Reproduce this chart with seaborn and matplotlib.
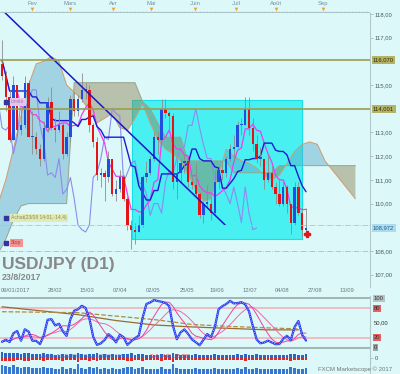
import numpy as np
import pandas as pd
import matplotlib
matplotlib.use("Agg")
import matplotlib.pyplot as plt
from matplotlib.patches import Rectangle
from matplotlib.transforms import blended_transform_factory
import seaborn as sns

# 1: données USD/JPY, une bougie = 2 séances (10/01 -> 23/08/2017)
first_open = 115.9
close = [115.4, 114.5, 112.7, 115.0, 113.1, 113.3, 115.1, 112.8, 112.8, 112.3,
         111.9, 113.2, 114.3, 113.2, 113.1, 113.3, 112.1, 112.8, 114.4, 113.9,
         114.4, 114.8, 114.8, 113.3, 112.6, 111.2, 111.3, 111.1, 111.9, 110.4,
         110.6, 111.1, 110.2, 109.1, 108.9, 108.8, 109.1, 111.1, 111.3, 111.9,
         112.8, 112.7, 114.0, 113.8, 113.7, 110.9, 111.3, 111.7, 111.8, 110.9,
         110.8, 110.4, 109.5, 110.0, 110.0, 109.6, 110.9, 111.4, 111.3, 111.9,
         112.3, 112.4, 113.3, 113.3, 114.0, 113.2, 112.5, 111.9, 111.9, 111.0,
         111.3, 110.7, 110.4, 110.0, 110.7, 110.0, 109.2, 110.7, 109.6, 108.9,
         108.97]
high = [116.9, 115.6, 114.8, 115.4, 115.0, 114.0, 115.4, 115.2, 113.9, 113.0,
        112.5, 113.5, 114.5, 114.9, 113.6, 113.9, 113.4, 113.0, 114.6, 114.7,
        114.6, 115.5, 115.1, 115.0, 113.4, 112.8, 111.5, 111.4, 112.2, 111.9,
        111.0, 111.4, 111.2, 110.3, 109.3, 109.2, 109.5, 111.2, 111.8, 112.0,
        113.0, 113.0, 114.4, 114.4, 113.9, 113.8, 111.9, 111.9, 112.1, 111.9,
        111.2, 111.7, 110.5, 110.1, 110.8, 110.3, 111.4, 111.6, 111.8, 112.0,
        112.5, 112.9, 113.5, 113.6, 114.5, 114.5, 113.6, 112.9, 112.4, 111.9,
        112.1, 111.6, 110.9, 111.0, 110.9, 110.8, 110.0, 110.9, 110.9, 109.8,
        109.8]
low = [115.2, 113.9, 112.6, 112.7, 112.9, 112.9, 113.2, 112.8, 112.1, 112.1,
       111.6, 111.8, 113.0, 113.1, 112.6, 113.0, 111.9, 112.0, 112.6, 113.7,
       113.7, 114.3, 114.4, 113.0, 112.4, 111.0, 110.7, 110.1, 110.9, 110.3,
       110.1, 110.5, 110.1, 108.9, 108.1, 108.3, 108.8, 109.0, 110.9, 111.2,
       111.8, 112.1, 112.7, 113.6, 113.1, 110.6, 110.2, 110.9, 111.3, 110.7,
       110.6, 110.3, 109.4, 109.2, 109.8, 109.3, 109.5, 110.6, 111.0, 111.1,
       111.8, 111.8, 112.4, 112.9, 113.3, 112.9, 112.2, 111.7, 111.6, 110.6,
       110.9, 110.6, 110.0, 109.9, 109.9, 109.6, 108.7, 109.1, 109.5, 108.6,
       108.6]

# nuage ichimoku (un point toutes les 2 bougies, projeté en avance)
cloud_j = list(range(-1, 95, 2))
senkou_a = [110.0, 111.0, 112.3, 113.7, 115.0, 115.9, 116.0, 116.2, 116.0, 115.0,
            114.7, 114.4, 113.9, 113.4, 113.6, 113.8, 113.2, 113.1, 113.6, 114.2,
            113.4, 112.7, 112.3, 112.1, 111.8, 111.2, 110.6, 110.1, 110.2, 111.2,
            112.3, 112.0, 111.8, 111.7, 111.5, 111.2, 111.0, 111.2, 111.7, 112.2,
            112.5, 112.6, 112.5, 111.8, 111.4, 111.0, 110.6, 110.2]
senkou_b = [107.9, 108.5, 109.3, 109.9, 110.0, 110.0, 110.0, 110.0, 110.0, 110.0,
            115.1, 115.1, 115.1, 115.1, 115.1, 115.1, 115.1, 115.1, 115.1, 114.3,
            114.0, 113.4, 112.8, 112.8, 112.8, 111.8, 111.8, 111.8, 111.8, 111.8,
            111.8, 111.3, 111.3, 111.3, 111.3, 111.3, 111.3, 111.6, 111.6, 111.6,
            111.6, 111.6, 111.6, 111.6, 111.6, 111.6, 111.6, 111.6]

# objets tracés sur le graphe
levels = [116.070, 114.001]
level_labels = ["116,070", "114,001"]
last_price = 108.972
achat_level = 109.116
stop_level = 108.0
limit_level = 114.29
trend_j = [0.8, 58.7]
trend_price = [118.05, 109.1]
box_j = [34.1, 79.0]
box_price = [108.5, 114.37]
signal_j = [80.2]
signal_price = [108.72]

# moyennes lentes (brunes) de l'oscillateur
brown_j = [0, 10, 20, 30, 40, 50, 60, 70, 78]
brown_1 = [83, 75, 67, 55, 46, 42, 39, 36, 36]
brown_2 = [73, 72, 71, 64, 57, 47, 43, 40, 38]

# volumes (millions)
buy = [9, 8, 7, 8, 7, 6, 7, 7, 6, 6,
       6, 7, 6, 6, 5, 5, 6, 5, 6, 5,
       7, 6, 5, 6, 6, 7, 5, 6, 5, 6,
       5, 5, 6, 6, 7, 5, 6, 6, 5, 5,
       5, 5, 6, 5, 5, 7, 6, 5, 5, 5,
       5, 6, 5, 5, 5, 5, 6, 5, 5, 5,
       5, 5, 6, 5, 6, 5, 5, 6, 5, 5,
       5, 5, 5, 5, 5, 5, 6, 6, 5, 5,
       6]
sell = [5, 4, 4, 5, 3, 3, 4, 4, 3, 3,
        3, 4, 3, 3, 3, 3, 4, 3, 3, 3,
        8, 3, 3, 4, 3, 4, 3, 3, 3, 3,
        3, 3, 3, 4, 4, 3, 3, 4, 3, 3,
        3, 3, 4, 3, 3, 8, 3, 3, 3, 3,
        3, 3, 3, 3, 3, 3, 3, 3, 3, 3,
        3, 3, 3, 3, 4, 3, 3, 3, 3, 3,
        3, 3, 3, 3, 3, 3, 4, 3, 3, 3,
        3]

months = ["Fev", "Mars", "Avr", "Mai", "Juin", "Juil", "Août", "Sep"]
month_pos = [7.9, 17.9, 29.2, 39.2, 50.8, 61.6, 72.1, 84.5]
date_labels = ["09/01/2017", "28/02", "15/03", "07/04", "02/05", "25/05",
               "19/06", "12/07", "04/08", "27/08", "13/09"]
date_pos = [-0.4, 13.9, 22.4, 31.1, 39.7, 48.7, 56.6, 65.3, 73.7, 82.4, 90.8]
price_ticks = [107, 108, 110, 111, 112, 113, 115, 117, 118]

# 2: indicateurs calculés à partir des bougies
px = pd.DataFrame({"close": close, "high": high, "low": low})
px["open"] = [first_open] + close[:-1]
j = np.arange(len(px))
tenkan = (px.high.rolling(5, min_periods=1).max() + px.low.rolling(5, min_periods=1).min()) / 2
kijun = (px.high.rolling(13, min_periods=1).max() + px.low.rolling(13, min_periods=1).min()) / 2
hh = px.high.rolling(7, min_periods=1).max()
ll = px.low.rolling(7, min_periods=1).min()
stoch = (100 * (px.close - ll) / (hh - ll)).rolling(2, min_periods=1).mean()
pink_fast = stoch.rolling(6, min_periods=1).mean()
pink_slow = stoch.rolling(10, min_periods=1).mean()

# 3: mise en page
sns.set_style("white")
plt.rcParams["font.family"] = ["Liberation Sans", "DejaVu Sans"]

BG = "#dcf8f9"
H = 374.0
fig = plt.figure(figsize=(4.0, 3.74), dpi=100, facecolor=BG)


def axes_px(top, bottom):
    return [0.0, 1 - bottom / H, 370 / 400, (bottom - top) / H]


ax_top = fig.add_axes(axes_px(0, 13))
ax = fig.add_axes(axes_px(13, 287))
ax_osc = fig.add_axes(axes_px(296, 350))
ax_v1 = fig.add_axes(axes_px(351, 362))
ax_v2 = fig.add_axes(axes_px(362, 374))

for a in (ax_top, ax, ax_osc, ax_v1, ax_v2):
    a.set_facecolor(BG)
    a.set_xlim(-0.53, 96.84)
    for s in ("top", "left", "bottom"):
        a.spines[s].set_visible(False)
    a.spines["right"].set_color("#b0c8ca")
    a.spines["right"].set_linewidth(0.8)
    a.set_xticks([])
    a.yaxis.tick_right()
    a.tick_params(axis="y", length=2, width=0.5, color="#98b0b0",
                  labelsize=4.2, labelcolor="#4c5858", pad=1.5)
ax_top.spines["right"].set_visible(False)

# --- bandeau des mois ---
ax_top.set_ylim(0, 1)
ax_top.set_yticks([])
for m, p in zip(months, month_pos):
    ax_top.text(p, 0.7, m, ha="center", va="center", fontsize=4.2, color="#7890a0")
ax_top.scatter(month_pos, [0.27] * len(month_pos), marker="v", s=7, color="#f0a030", lw=0)
ax_top.axhline(0.04, color="#a8c4c8", lw=0.8)
ax_top.vlines(np.arange(0, 97), 0, 0.14, color="#a8c4c8", lw=0.4)

# --- graphique principal ---
ax.set_ylim(106.48, 118.04)

# rectangle cyan sous le nuage (le nuage transparaît plus sombre)
ax.add_patch(Rectangle((box_j[0], box_price[0]), box_j[1] - box_j[0],
                       box_price[1] - box_price[0], facecolor="#48f0f2",
                       edgecolor="#18dfe6", lw=0.8, zorder=1))

cj = np.array(cloud_j)
sa = np.array(senkou_a)
sb = np.array(senkou_b)
ax.fill_between(cj, sa, sb, where=sa >= sb, interpolate=True, color="#5aa8c8",
                alpha=0.45, lw=0, zorder=2)
ax.fill_between(cj, sa, sb, where=sa < sb, interpolate=True, color="#8a8050",
                alpha=0.45, lw=0, zorder=2)
ax.plot(cj, sa, color="#d19b72", lw=0.7, zorder=2.5)
ax.plot(cj, sb, color="#9aa48c", lw=0.7, zorder=2.5)

sns.lineplot(x=j - 13, y=px.close, ax=ax, color="#8c8cf0", linewidth=0.8, zorder=3)
sns.lineplot(x=j, y=tenkan, ax=ax, color="#f03cf0", linewidth=0.9, zorder=3.5)
sns.lineplot(x=j, y=kijun, ax=ax, color="#1c1cd0", linewidth=1.0, zorder=3.5)

o = px.open.values
c = px.close.values
up = c >= o
ax.vlines(j, px.low, px.high, color="#8c8c8c", lw=0.6, zorder=4)
ax.bar(j, np.maximum(np.abs(c - o), 0.05), bottom=np.minimum(o, c), width=0.62,
       color=np.where(up, "#1f4fe0", "#e41414"), lw=0, zorder=5)

ax.plot(trend_j, trend_price, color="#1818c8", lw=1.1, zorder=6)
for lv in levels:
    ax.axhline(lv, color="#9c9c50", lw=1.4, alpha=0.85, zorder=6)
ax.axhline(achat_level, color="#a0d4a0", lw=0.6, ls="-.", zorder=6)
ax.axhline(stop_level, color="#f0a090", lw=0.6, ls="-.", zorder=6)
ax.plot(signal_j, signal_price, marker="P", ms=4, color="#e01818", lw=0, zorder=7)

ax.set_yticks(price_ticks)
ax.set_yticklabels([f"{t:.2f}".replace(".", ",") for t in price_ticks])
ax.set_xlabel("")
ax.set_ylabel("")

tr = blended_transform_factory(ax.transAxes, ax.transData)
for lv, txt in zip(levels, level_labels):
    ax.text(1.008, lv, txt, transform=tr, fontsize=4.2, va="center", ha="left",
            color="#2e2e08", clip_on=False,
            bbox=dict(boxstyle="square,pad=0.25", fc="#b3b266", ec="none"))
ax.text(1.008, last_price, f"{last_price:.3f}".replace(".", ","), transform=tr,
        fontsize=4.2, va="center", ha="left", color="#305a78", clip_on=False,
        bbox=dict(boxstyle="square,pad=0.25", fc="#a9dcf2", ec="none"))

# étiquettes d'ordres à gauche
orders = [(limit_level, "Limite", "#e8c4ec", "#a080b0"),
          (achat_level + 0.28, "Achat(23/08 14:01,-14,4)", "#e2ebb8", "#8a8a58"),
          (stop_level + 0.34, "Stop", "#f29494", "#c03838")]
tl = blended_transform_factory(ax.transAxes, ax.transData)
for lv, txt, fc, tc in orders:
    ax.scatter([0.016], [lv], transform=tl, marker="s", s=9, color="#34349e", zorder=8)
    ax.text(0.03, lv, txt, transform=tl, fontsize=3.6, va="center", ha="left", color=tc,
            zorder=8, bbox=dict(boxstyle="square,pad=0.3", fc=fc, ec="none"))

# titre
fig.text(0.006, 1 - 269 / H, "USD/JPY (D1)", fontsize=12.5, fontweight="bold", color="#888888")
fig.text(0.004, 1 - 280 / H, "23/8/2017", fontsize=6.4, fontweight="bold", color="#888888")

# dates en bas
td = blended_transform_factory(ax.transData, ax.transAxes)
for k, (p, lab) in enumerate(zip(date_pos, date_labels)):
    ax.text(p, -0.012, lab, transform=td, ha="left" if k == 0 else "center",
            va="center", fontsize=4.2, color="#6a7a80", clip_on=False)

# --- oscillateur ---
ax_osc.set_ylim(-5, 105)
ax_osc.set_yticks([])
ax_osc.axhline(100, color="#98a8a8", lw=1.2)
ax_osc.axhline(0, color="#98a8a8", lw=1.2)
ax_osc.axhline(80, color="#f4b2bc", lw=1.2)
ax_osc.axhline(20, color="#f4b2bc", lw=1.2)
sns.lineplot(x=brown_j, y=brown_1, ax=ax_osc, color="#9c6a2c", linewidth=0.9)
sns.lineplot(x=brown_j, y=brown_2, ax=ax_osc, color="#b08a40", linewidth=0.9, linestyle="--")
sns.lineplot(x=j, y=pink_slow, ax=ax_osc, color="#f06aa8", linewidth=0.7)
sns.lineplot(x=j, y=pink_fast, ax=ax_osc, color="#f0409a", linewidth=0.7)
sns.lineplot(x=j, y=stoch, ax=ax_osc, color="#2438f0", linewidth=1.6)
ax_osc.plot(j, stoch, color="white", lw=0.5, ls=":")
ax_osc.set_xlabel("")
ax_osc.set_ylabel("")
to = blended_transform_factory(ax_osc.transAxes, ax_osc.transData)
osc_labels = [(100, "100", "#b8c2c2"), (80, "80", "#e86060"), (50, "50,00", None),
              (20, "20", "#e86060"), (0, "0", "#9aa4a4")]
for v, txt, fc in osc_labels:
    kw = dict(bbox=dict(boxstyle="square,pad=0.2", fc=fc, ec="none")) if fc else {}
    ax_osc.text(1.01, v, txt, transform=to, fontsize=4.2, va="center", ha="left",
                color="#3a3030", clip_on=False, **kw)

# --- volumes ---
ax_v1.set_ylim(-6, 10.5)
ax_v1.set_yticks([0])
ax_v1.set_yticklabels(["0"])
ax_v1.bar(j, buy, width=0.7, color="#2a68c8", lw=0)
ax_v1.bar(j, -np.array(sell), width=0.7, color="#e02828", lw=0)
ax_v1.text(10, 2, "Volume(USD/JPY) : Buy: 637 409 608", fontsize=3.5, color="#5060a8",
           va="center", alpha=0.8)
ax_v1.text(39, 2, "Sell: -445 115 888", fontsize=3.5, color="#e03030", va="center")

total = np.array(buy) + np.array(sell)
ax_v2.set_ylim(0, 18)
ax_v2.set_yticks([])
ax_v2.bar(j, total, width=0.7, color="#3a78d0", lw=0)
fig.text(318 / 400, 1 - 369 / H, "FXCM Marketscope © 2017", fontsize=4.3,
         color="#707878", va="center")

plt.savefig("out.png", dpi=100, facecolor=BG)
